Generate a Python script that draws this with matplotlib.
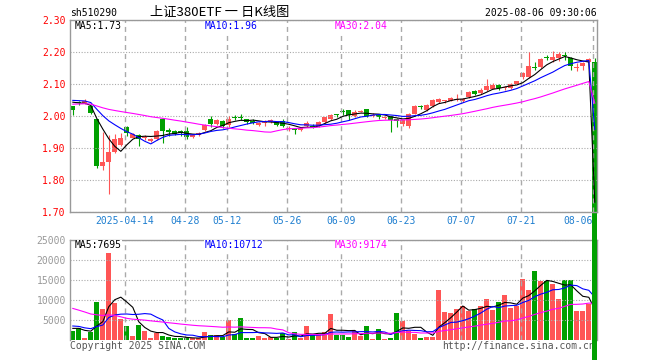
import numpy as np
import pandas as pd
import matplotlib
matplotlib.use("Agg")
import matplotlib.pyplot as plt

# SSE trading days shown on the chart (holidays taken out)
holidays = ["2025-04-04", "2025-05-01", "2025-05-02", "2025-05-05", "2025-06-02"]
dates = pd.bdate_range("2025-03-31", "2025-08-06")
dates = dates[~dates.isin(pd.to_datetime(holidays))]

tick_dates = ["2025-04-14", "2025-04-28", "2025-05-12", "2025-05-26", "2025-06-09",
              "2025-06-23", "2025-07-07", "2025-07-21", "2025-08-06"]
tick_labels = ["2025-04-14", "04-28", "05-12", "05-26", "06-09",
               "06-23", "07-07", "07-21", "08-06"]

opens = [2.030, 2.045, 2.040, 2.030, 1.990, 1.843, 1.857, 1.887, 1.910, 1.966,
         1.932, 1.940, 1.932, 1.921, 1.928, 1.990, 1.955, 1.952, 1.953, 1.952,
         1.934, 1.940, 1.955, 1.992, 1.976, 1.985, 1.972, 1.997, 1.996, 1.990,
         1.985, 1.972, 1.978, 1.982, 1.980, 1.983, 1.960, 1.958, 1.955, 1.970,
         1.970, 1.970, 1.981, 1.990, 2.004, 2.016, 2.018, 2.001, 2.014, 2.022,
         2.000, 2.003, 1.993, 1.999, 1.992, 1.975, 1.968, 2.007, 2.032, 2.018,
         2.030, 2.043, 2.046, 2.048, 2.050, 2.047, 2.059, 2.077, 2.072, 2.080,
         2.085, 2.098, 2.086, 2.087, 2.101, 2.121, 2.122, 2.153, 2.153, 2.185,
         2.174, 2.181, 2.192, 2.181, 2.151, 2.155, 2.170, 2.170]
highs = [2.032, 2.048, 2.053, 2.035, 1.990, 1.950, 1.940, 1.944, 1.947, 1.968,
         1.946, 1.943, 1.940, 1.930, 1.957, 1.993, 1.962, 1.955, 1.957, 1.966,
         1.943, 1.950, 1.976, 2.001, 1.990, 1.988, 1.999, 2.004, 2.007, 1.992,
         1.990, 1.980, 1.986, 1.991, 1.982, 1.990, 1.968, 1.962, 1.965, 1.983,
         1.975, 1.984, 1.998, 2.007, 2.006, 2.022, 2.020, 2.020, 2.019, 2.023,
         2.008, 2.007, 2.000, 2.000, 1.995, 1.988, 2.009, 2.033, 2.035, 2.038,
         2.052, 2.057, 2.051, 2.060, 2.070, 2.056, 2.077, 2.080, 2.086, 2.116,
         2.103, 2.100, 2.093, 2.103, 2.110, 2.137, 2.199, 2.168, 2.181, 2.190,
         2.204, 2.199, 2.200, 2.183, 2.166, 2.168, 2.180, 2.180]
lows = [2.004, 2.035, 2.036, 2.005, 1.837, 1.830, 1.757, 1.883, 1.906, 1.937,
        1.930, 1.907, 1.925, 1.920, 1.926, 1.916, 1.937, 1.940, 1.937, 1.928,
        1.930, 1.938, 1.953, 1.966, 1.972, 1.962, 1.965, 1.989, 1.986, 1.976,
        1.975, 1.968, 1.970, 1.979, 1.968, 1.965, 1.952, 1.945, 1.952, 1.967,
        1.962, 1.967, 1.978, 1.987, 1.998, 2.004, 1.986, 1.998, 2.012, 1.997,
        1.997, 1.990, 1.990, 1.949, 1.966, 1.970, 1.964, 2.005, 2.023, 2.016,
        2.028, 2.040, 2.041, 2.046, 2.048, 2.045, 2.056, 2.066, 2.070, 2.078,
        2.083, 2.080, 2.080, 2.085, 2.099, 2.116, 2.120, 2.143, 2.150, 2.174,
        2.170, 2.171, 2.174, 2.143, 2.140, 2.143, 2.168, 0.000]
closes = [2.020, 2.040, 2.046, 2.010, 1.845, 1.855, 1.888, 1.928, 1.932, 1.946,
          1.943, 1.928, 1.935, 1.928, 1.953, 1.952, 1.950, 1.944, 1.948, 1.935,
          1.940, 1.946, 1.973, 1.976, 1.986, 1.970, 1.990, 1.994, 1.993, 1.980,
          1.979, 1.978, 1.980, 1.989, 1.972, 1.968, 1.962, 1.955, 1.962, 1.978,
          1.967, 1.980, 1.996, 2.004, 2.002, 2.013, 2.002, 2.011, 2.017, 2.000,
          2.003, 1.998, 1.998, 1.987, 1.985, 1.986, 2.007, 2.030, 2.027, 2.033,
          2.049, 2.054, 2.049, 2.056, 2.053, 2.053, 2.074, 2.069, 2.082, 2.095,
          2.098, 2.088, 2.090, 2.101, 2.108, 2.134, 2.155, 2.150, 2.179, 2.182,
          2.184, 2.195, 2.189, 2.157, 2.154, 2.165, 2.178, 0.000]
volumes = [2300, 3050, 600, 2000, 9550, 7670, 21830, 9330, 5170, 3500,
           1000, 3750, 2250, 600, 1700, 1000, 670, 550, 400, 600,
           420, 420, 1920, 1250, 1250, 700, 5000, 1500, 5500, 550,
           500, 1050, 450, 750, 550, 1670, 250, 1920, 420, 3550,
           1250, 1250, 1920, 6500, 1250, 1250, 800, 2150, 1050, 3550,
           350, 2750, 250, 580, 6700, 4800, 2300, 1500, 580, 670,
           830, 12500, 7100, 6800, 7700, 8400, 7300, 7800, 8400, 10200,
           7600, 9500, 11200, 7900, 8500, 15300, 12600, 17220, 14700, 14700,
           13995, 10250, 15000, 15000, 7200, 7200, 9000, 75]

# sessions before the window, estimated only so the moving averages start right
pre_close = [2.020, 2.025, 2.035, 2.030, 2.028, 2.034, 2.032, 2.030, 2.036,
             2.030, 2.026, 2.034, 2.038, 2.030, 2.028, 2.032, 2.036, 2.030, 2.034, 2.032,
             2.048, 2.056, 2.060, 2.054, 2.054, 2.052, 2.050, 2.046, 2.048]
pre_volume = [16000, 14500, 17000, 15500, 13000, 16500, 14000, 15500, 15000,
              7500, 6800, 6200, 5900, 6500, 5400, 5800, 5200, 5600, 5100, 4800,
              4100, 4200, 4000, 4200, 4000, 3000, 3100, 3000, 3100]

RED = "#ff5555"
GREEN = "#00a000"
GRID = "#aaaaaa"
FRAME = "#999999"
MONO = "DejaVu Sans Mono"
W, H = 660, 360


def moving_avg(values, pre, n):
    s = pd.Series(list(pre) + list(values), dtype=float)
    return s.rolling(n).mean().iloc[len(pre):].to_numpy()


def fx(px):
    return px / W


def fy(py):
    return 1 - py / H


o = np.array(opens)
h = np.array(highs)
l = np.array(lows)
c = np.array(closes)
v = np.array(volumes, dtype=float)
x = np.arange(len(c))
colors = np.where(c >= o, RED, GREEN)

ma5, ma10, ma30 = (moving_avg(c, pre_close, n) for n in (5, 10, 30))
vma5, vma10, vma30 = (moving_avg(v, pre_volume, n) for n in (5, 10, 30))

fig = plt.figure(figsize=(6.6, 3.6), dpi=100)
ax = fig.add_axes([fx(70), fy(212), fx(597) - fx(70), (212 - 20) / H])
axv = fig.add_axes([fx(70), fy(340), fx(597) - fx(70), (340 - 240) / H])
ax.set_zorder(5)
axv.set_zorder(1)

tick_pos = [dates.get_loc(pd.Timestamp(d)) - 0.35 for d in tick_dates]

for a in (ax, axv):
    a.set_xlim(-0.467, 87.367)
    a.set_xticks(tick_pos)
    a.grid(axis="x", color=GRID, ls=(0, (3.6, 2.9)), lw=1)
    a.grid(axis="y", color=GRID, ls=(0, (1, 1.5)), lw=0.8)
    a.tick_params(axis="both", length=0, labelsize=7)
    for s in a.spines.values():
        s.set_color(FRAME)
        s.set_linewidth(1)

# price panel
ax.vlines(x, l, h, colors=colors, lw=0.8, clip_on=False)
body_low = np.minimum(o, c)
body_h = np.maximum(np.abs(c - o), 0.003)
bars = ax.bar(x, body_h, width=0.83, bottom=body_low, color=colors, linewidth=0)
for p in bars:
    p.set_clip_on(False)
ax.plot(x, ma5, color="black", lw=0.8)
ax.plot(x, ma10, color="#0000ff", lw=0.8)
ax.plot(x, ma30, color="#ff00ff", lw=0.8)

ax.set_ylim(1.70, 2.30)
ax.set_yticks(np.arange(1.70, 2.301, 0.10))
ax.set_yticklabels([f"{t:.2f}" for t in np.arange(1.70, 2.301, 0.10)],
                   family=MONO, color="#ff0000")
ax.set_xticklabels(tick_labels, family=MONO, color="#1f7fd0")
ax.get_xticklabels()[-1].set_ha("right")
ax.tick_params(axis="y", pad=3.2)
ax.tick_params(axis="x", pad=3.0)

# volume panel
axv.bar(x, v, width=0.83, color=colors, linewidth=0)
axv.plot(x, vma5, color="black", lw=0.8)
axv.plot(x, vma10, color="#0000ff", lw=0.8)
axv.plot(x, vma30, color="#ff00ff", lw=0.8)
axv.set_ylim(0, 25000)
axv.set_yticks([5000, 10000, 15000, 20000, 25000])
axv.set_yticklabels(["5000", "10000", "15000", "20000", "25000"],
                    family=MONO, color="#999999")
axv.tick_params(axis="y", pad=3.0)
axv.tick_params(axis="x", labelbottom=False)
axv.spines["bottom"].set_visible(False)

box = dict(facecolor="white", edgecolor="none", pad=0.3)
lab = dict(family=MONO, size=7, va="center", ha="left", zorder=10, bbox=box)
ax.text(fx(75), fy(26.3), f"MA5:{ma5[-1]:.2f}", color="black", transform=fig.transFigure, **lab)
ax.text(fx(204.3), fy(26.3), f"MA10:{ma10[-1]:.2f}", color="#0000ff", transform=fig.transFigure, **lab)
ax.text(fx(334.7), fy(26.3), f"MA30:{ma30[-1]:.2f}", color="#ff00ff", transform=fig.transFigure, **lab)
axv.text(fx(75), fy(245.5), f"MA5:{vma5[-1]:.0f}", color="black", transform=fig.transFigure, **lab)
axv.text(fx(204.3), fy(245.5), f"MA10:{vma10[-1]:.0f}", color="#0000ff", transform=fig.transFigure, **lab)
axv.text(fx(335), fy(245.5), f"MA30:{vma30[-1]:.0f}", color="#ff00ff", transform=fig.transFigure, **lab)

# header and footer
fig.text(fx(70), fy(13), "sh510290", family=MONO, size=7, va="center", ha="left")
fig.text(fx(220), fy(12), "上证380ETF 一 日K线图", family=["Noto Sans CJK SC", "DejaVu Sans"],
         size=9.5, va="center", ha="center")
fig.text(fx(597), fy(13), "2025-08-06 09:30:06", family=MONO, size=7, va="center", ha="right")
fig.text(fx(70), fy(346), "Copyright 2025 SINA.COM", family=MONO, size=7,
         color="#555555", va="center", ha="left", zorder=3)
fig.text(fx(442), fy(346), "http://finance.sina.com.cn", family=MONO, size=7,
         color="#555555", va="center", ha="left", zorder=3)
fig.text(fx(580), fy(177), "sina", color="#c4c4c4", style="italic", weight="bold",
         size=10, va="center", ha="center", zorder=3)

fig.savefig("out.png", dpi=100)
